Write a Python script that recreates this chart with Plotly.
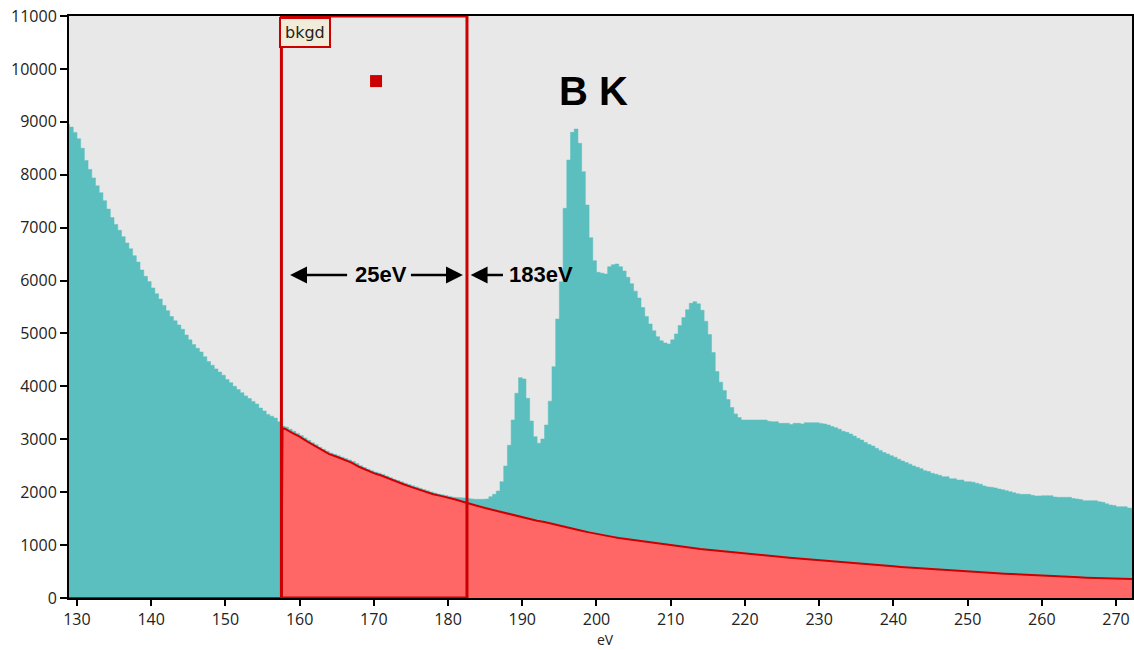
import plotly.graph_objects as go

# ---------------- data ----------------
BIN_START = 128.5      # eV, left edge of first spectrum channel
BIN_WIDTH = 0.5        # eV per channel

SPECTRUM_COUNTS = [
    # 128.5 - 157.5 eV (pre-edge decay)
    8950, 8900, 8800, 8680, 8500, 8270, 8100, 7940, 7790, 7660,
    7510, 7350, 7190, 7060, 6950, 6830, 6710, 6600, 6470, 6350,
    6200, 6080, 5980, 5860, 5750, 5650, 5530, 5430, 5320, 5240,
    5160, 5080, 4970, 4880, 4790, 4720, 4650, 4560, 4470, 4400,
    4330, 4270, 4210, 4130, 4070, 4000, 3940, 3880, 3820, 3770,
    3715, 3665, 3590, 3535, 3470, 3435, 3400, 3330, 3250,
    # 158.0 - 182.5 eV (fit window)
    3230, 3190, 3150, 3110, 3070, 3025, 2980, 2935, 2895, 2850,
    2810, 2775, 2740, 2715, 2690, 2660, 2635, 2610, 2580, 2540,
    2500, 2465, 2435, 2405, 2380, 2360, 2335, 2305, 2275, 2245,
    2220, 2195, 2170, 2145, 2120, 2100, 2075, 2050, 2025, 2005,
    1985, 1965, 1950, 1935, 1920, 1905, 1900, 1895, 1890, 1880,
    # 183.0 - 219.5 eV (B K edge)
    1870, 1865, 1865, 1865, 1870, 1915, 1960, 2022, 2198, 2495,
    2886, 3364, 3869, 4164, 4140, 3774, 3345, 3049, 2924, 3005,
    3270, 3720, 4372, 5273, 5978, 7365, 8278, 8801, 8864, 8594,
    8057, 7428, 6810, 6375, 6156, 6140, 6124, 6262, 6300, 6313,
    6262, 6180, 6060, 5940, 5800, 5670, 5490, 5320, 5180, 5050,
    4940, 4860, 4820, 4801, 4880, 4990, 5150, 5300, 5450, 5570,
    5600, 5560, 5440, 5230, 4980, 4640, 4280, 4080, 3920, 3750,
    3600, 3480, 3410, 3364,
    # 220.0 - 272.5 eV (post-edge)
    3364, 3364, 3364, 3364, 3364, 3364, 3340, 3333, 3333, 3301,
    3301, 3301, 3280, 3301, 3301, 3290, 3314, 3314, 3314, 3314,
    3300, 3289, 3270, 3240, 3219, 3190, 3150, 3131, 3100, 3060,
    3020, 2986, 2940, 2900, 2873, 2830, 2790, 2750, 2722, 2690,
    2660, 2621, 2589, 2560, 2530, 2495, 2470, 2444, 2406, 2390,
    2357, 2340, 2319, 2293, 2293, 2255, 2255, 2230, 2230, 2198,
    2198, 2190, 2168, 2150, 2117, 2100, 2092, 2080, 2060, 2045,
    2028, 2010, 1990, 1970, 1960, 1960, 1960, 1940, 1928, 1930,
    1934, 1934, 1934, 1910, 1903, 1903, 1903, 1903, 1880, 1871,
    1860, 1839, 1839, 1839, 1839, 1820, 1808, 1780, 1758, 1750,
    1726, 1726, 1726, 1700, 1695, 1695,
]
SPECTRUM_EV = [BIN_START + BIN_WIDTH * i for i in range(len(SPECTRUM_COUNTS))]

# background (power-law fit) curve
BKGD_EV = [128.5, 157.55, 157.7] + list(range(158, 273)) + [272.5]
BKGD_COUNTS = [
    0, 0, 3210,
    3200, 3120, 3050, 2960, 2875, 2790, 2720, 2670, 2615, 2560,   # 158-167
    2480, 2415, 2360, 2315, 2255, 2200, 2150, 2100, 2055, 2000,   # 168-177
    1960, 1930, 1900, 1860, 1820, 1785, 1740, 1700, 1665, 1630,   # 178-187
    1590, 1555, 1520, 1490, 1460, 1435, 1400, 1370, 1340, 1305,   # 188-197
    1272, 1240, 1210, 1185, 1160, 1135, 1115, 1095, 1075, 1055,   # 198-207
    1035, 1015, 995, 975, 958, 942, 926, 911, 896, 882,           # 208-217
    868, 854, 840, 826, 812, 799, 788, 775, 762, 750,             # 218-227
    736, 720, 705, 695, 685, 672, 662, 650, 640, 630,             # 228-237
    620, 610, 598, 588, 578, 568, 560, 550, 540, 530,             # 238-247
    520, 505, 495, 490, 483, 476, 468, 460, 452, 445,             # 248-257
    438, 430, 420, 412, 405, 400, 395, 390, 385, 380,             # 258-267
    372, 362, 360, 358, 358,                                      # 268-272
    358,
]

WINDOW_START = 157.55   # eV
WINDOW_END = 182.55     # eV  (25 eV window ending at 183 eV)
HANDLE_EV = [170.3]
HANDLE_COUNTS = [9770]

X_TICKS = list(range(130, 271, 10))
Y_TICKS = list(range(0, 11001, 1000))
X_RANGE = [128.93, 272.15]
Y_RANGE = [0, 11000]

TEAL = "#5bbfbf"
RED_FILL = "#ff6666"
RED_LINE = "#cc0000"
TICK_FONT = dict(family="Open Sans", size=16, color="#222222")

# ---------------- figure ----------------
fig = go.Figure()

fig.add_trace(go.Scatter(
    x=SPECTRUM_EV, y=SPECTRUM_COUNTS, mode="lines", line_shape="hv",
    line=dict(color=TEAL, width=0.5), fill="tozeroy", fillcolor=TEAL,
    hoverinfo="skip",
))

fig.add_trace(go.Scatter(
    x=BKGD_EV, y=BKGD_COUNTS, mode="lines",
    line=dict(color=RED_LINE, width=2), fill="tozeroy", fillcolor=RED_FILL,
    hoverinfo="skip",
))

fig.add_trace(go.Scatter(
    x=HANDLE_EV, y=HANDLE_COUNTS, mode="markers",
    marker=dict(symbol="square", size=12, color=RED_LINE, line=dict(width=0)),
    hoverinfo="skip",
))

# fit window rectangle
fig.add_shape(type="rect", xref="x", yref="y",
              x0=WINDOW_START, x1=WINDOW_END, y0=Y_RANGE[0], y1=Y_RANGE[1],
              line=dict(color=RED_LINE, width=3), fillcolor="rgba(0,0,0,0)",
              layer="above")

ARROW_Y = 6105
arrow_common = dict(xref="x", yref="y", axref="x", ayref="y", text="",
                    showarrow=True, arrowhead=2, arrowsize=1.25,
                    arrowwidth=2.7, arrowcolor="black", standoff=0)
# 25 eV double arrow
fig.add_annotation(x=158.72, y=ARROW_Y, ax=166.6, ay=ARROW_Y, **arrow_common)
fig.add_annotation(x=182.0, y=ARROW_Y, ax=174.8, ay=ARROW_Y, **arrow_common)
# 183 eV arrow
fig.add_annotation(x=183.05, y=ARROW_Y, ax=187.6, ay=ARROW_Y, **arrow_common)

bold_font = dict(family="Liberation Sans, Arial, sans-serif", size=22, color="black")
fig.add_annotation(x=170.9, y=ARROW_Y, text="<b>25eV</b>", showarrow=False,
                   xanchor="center", yanchor="middle", font=bold_font)
fig.add_annotation(x=187.9, y=ARROW_Y, text="<b>183eV</b>", showarrow=False,
                   xanchor="left", yanchor="middle", font=bold_font)

fig.add_annotation(x=199.6, y=9582, text="<b>B K</b>", showarrow=False,
                   xanchor="center", yanchor="middle",
                   font=dict(family="Liberation Sans, Arial, sans-serif", size=40, color="black"))

fig.add_annotation(x=WINDOW_START, y=Y_RANGE[1], text="bkgd", showarrow=False,
                   xanchor="left", yanchor="top", xshift=-2, yshift=-1,
                   bgcolor="#f1ecd9", bordercolor=RED_LINE, borderwidth=2, borderpad=4,
                   font=dict(family="DejaVu Sans, sans-serif", size=16, color="#222222"))

# x-axis title placed explicitly below the tick labels
fig.add_annotation(xref="paper", yref="paper", x=0.505, y=-0.0892, text="eV",
                   showarrow=False, xanchor="center", yanchor="bottom",
                   borderpad=0,
                   font=dict(family="Open Sans", size=14, color="#222222"))

fig.update_layout(
    width=1134, height=650,
    margin=dict(l=69, r=0, t=16, b=52),
    plot_bgcolor="#e8e8e8", paper_bgcolor="white",
    showlegend=False,
    xaxis=dict(range=X_RANGE, tickvals=X_TICKS, ticktext=[str(v) for v in X_TICKS],
               ticks="outside", ticklen=6, tickwidth=2, tickcolor="black",
               showline=True, linewidth=2, linecolor="black", mirror=True,
               showgrid=False, zeroline=False, tickfont=TICK_FONT),
    yaxis=dict(range=Y_RANGE, tickvals=Y_TICKS, ticktext=[str(v) for v in Y_TICKS],
               ticks="outside", ticklen=7, tickwidth=2, tickcolor="black",
               showline=True, linewidth=2, linecolor="black", mirror=True,
               showgrid=False, zeroline=False, tickfont=TICK_FONT),
)

fig.write_html("out.html")
